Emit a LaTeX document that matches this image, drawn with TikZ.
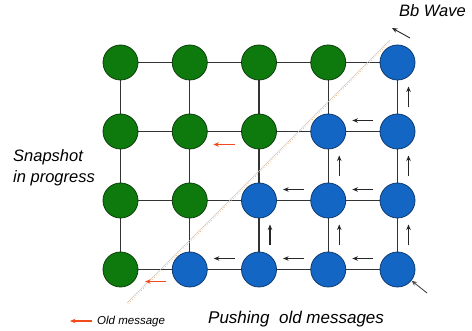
\documentclass[tikz,border=0pt]{standalone}
\usepackage{fontspec}
\setmainfont{Liberation Sans}
\usetikzlibrary{calc,arrows.meta}
\definecolor{ngreen}{HTML}{0E7A0E}
\definecolor{ngreenD}{HTML}{0B3F0B}
\definecolor{nblue}{HTML}{1466C4}
\definecolor{nblueD}{HTML}{0C3A70}
\definecolor{oldred}{HTML}{F04A1E}
\begin{document}
\begin{tikzpicture}[x=1pt,y=-1pt,
  gnode/.style={circle,minimum size=35pt,inner sep=0pt,fill=ngreen,draw=ngreenD,line width=0.8pt},
  bnode/.style={circle,minimum size=35pt,inner sep=0pt,fill=nblue,draw=nblueD,line width=0.8pt},
  edge/.style={draw=black!80,line width=1.2pt},
  msg/.style={draw=black!85,line width=1.1pt,-{Stealth[length=5.5pt,width=4.5pt]}},
  oldmsg/.style={draw=oldred,line width=1.1pt,-{Stealth[length=5.5pt,width=4.5pt]}},
  lbl/.style={font=\fontsize{16.5}{19}\selectfont\itshape,inner sep=0pt}
]
\useasboundingbox (0,0) rectangle (472,331);
\fill[white] (0,0) rectangle (472,331);

% grid positions
\foreach \r in {1,...,4}{
  \foreach \c in {1,...,5}{
    \coordinate (p-\r-\c) at ({120.5+69.25*(\c-1)},{62.5+69*(\r-1)});
  }
}
\foreach \r in {1,...,4}{
  \draw[edge] (p-\r-1) -- (p-\r-5);
}
\foreach \c in {1,...,5}{
  \draw[edge] (p-1-\c) -- (p-4-\c);
}

% diagonal wave line
\coordinate (w1) at (127,303);
\coordinate (w2) at (390,40);
\draw[black!22,line width=0.7pt] (w1) -- (w2);
\draw[orange!70,line width=0.6pt,dotted] ($(w1)+(1.5,0.5)$) -- ($(w2)+(1.5,0.5)$);

% nodes
\foreach \r/\c in {1/1,1/2,1/3,1/4,2/1,2/2,2/3,3/1,3/2,4/1}{
  \node[gnode] (n-\r-\c) at (p-\r-\c) {};
}
\foreach \r/\c in {1/5,2/4,2/5,3/3,3/4,3/5,4/2,4/3,4/4,4/5}{
  \node[bnode] (n-\r-\c) at (p-\r-\c) {};
}

% horizontal black arrows (above edges)
\foreach \r/\c/\d in {2/4/5,3/3/4,3/4/5,4/2/3,4/3/4,4/4/5}{
  \draw[msg] ($(n-\r-\c)!0.5!(n-\r-\d)+(10.5,-11)$) -- ++(-21,0);
}
% vertical black arrows (right of edges)
\foreach \c/\r/\s in {5/1/2,5/2/3,5/3/4,4/2/3,4/3/4,3/3/4}{
  \draw[msg] ($(n-\r-\c)!0.5!(n-\s-\c)+(11,10.5)$) -- ++(0,-21);
}
% red old messages
\draw[oldmsg] ($(n-2-2)!0.5!(n-2-3)+(11,13)$) -- ++(-22,0);
\draw[oldmsg] ($(n-4-1)!0.5!(n-4-2)+(11,12)$) -- ++(-21,0);

% wave arrows
\coordinate (bw) at (410,38);
\draw[msg,line width=0.9pt] (bw) -- (392,28);
\coordinate (pa) at (427,293);
\draw[msg,line width=0.9pt,draw=black!70] (pa) -- (n-4-5);

% labels
\node[lbl,anchor=base west] (tbb) at (399,17) {Bb Wave};
\node[lbl,anchor=base west] (tsn) at (13,162) {Snapshot};
\node[lbl,anchor=base west] (tip) at (13,183) {in progress};
\node[lbl,anchor=base west,font=\fontsize{17}{19}\selectfont\itshape] (tpu) at (208,324) {Pushing\ \ old messages};
\node[inner sep=0pt,anchor=base west,font=\fontsize{11.5}{13}\selectfont\itshape] (tom) at (97,325) {Old message};
\coordinate (lg) at (92,321);
\draw[oldmsg] (lg) -- ++(-22,0);
\end{tikzpicture}
\end{document}
